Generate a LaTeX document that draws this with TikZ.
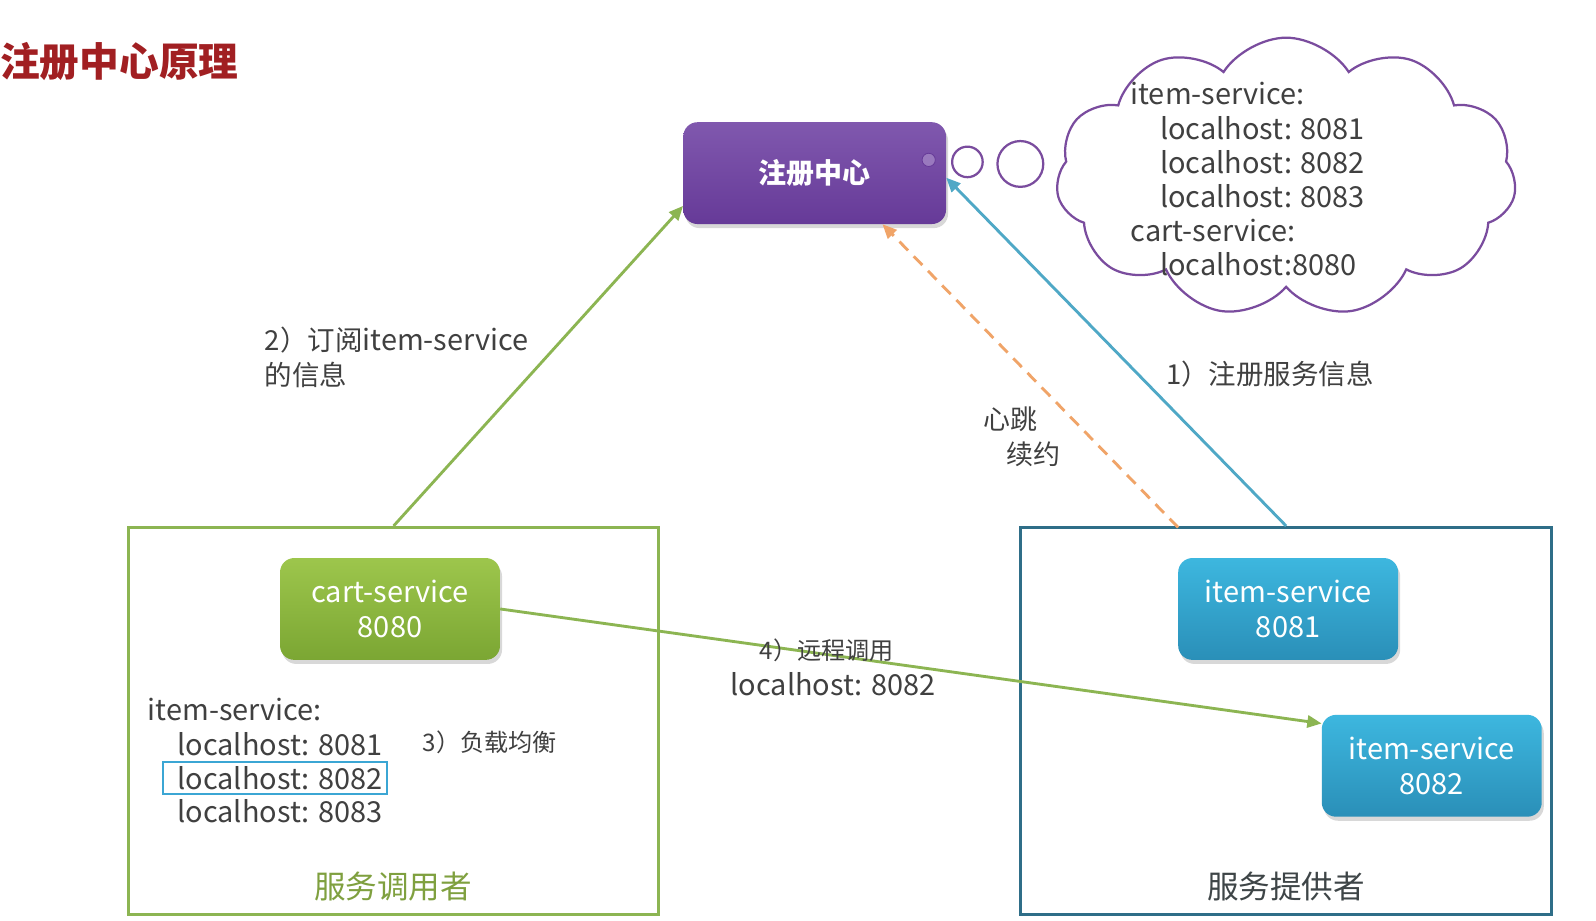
\documentclass[tikz,border=0pt]{standalone}
\usepackage{fontspec}
\setmainfont{Noto Sans CJK SC}
\usetikzlibrary{shapes.symbols,shadows,arrows.meta}
\definecolor{titlered}{HTML}{A11F22}
\definecolor{purpT}{HTML}{8058AE}
\definecolor{purpB}{HTML}{663A98}
\definecolor{greenT}{HTML}{9DC64C}
\definecolor{greenB}{HTML}{7BA633}
\definecolor{blueT}{HTML}{3DB7DF}
\definecolor{blueB}{HTML}{2A8FB8}
\definecolor{lgreen}{HTML}{8CB552}
\definecolor{lblue}{HTML}{4FA8C6}
\definecolor{lorange}{HTML}{F0A468}
\definecolor{teal}{HTML}{2F6E88}
\definecolor{txt}{HTML}{404040}
\definecolor{cloudp}{HTML}{7A4C9E}
\definecolor{hlblue}{HTML}{3BA6D4}
\definecolor{lbltxt}{HTML}{7FA03F}
\tikzset{
  svcbox/.style={rounded corners=14pt, text=white, align=center,
    font=\fontsize{28.5}{34}\selectfont, inner sep=0pt,
    drop shadow={shadow xshift=2pt, shadow yshift=-4pt, opacity=0.3}},
  arr/.style={line width=2.8pt, -{Triangle[length=14pt,width=12pt]}},
  lbl/.style={text=txt, font=\fontsize{27}{34}\selectfont, inner sep=0pt},
  list/.style={text=txt, font=\fontsize{28.4}{33.5}\selectfont, inner sep=0pt, anchor=west},
  group/.style={line width=3pt, minimum width=521pt, minimum height=380pt, inner sep=0pt},
}
\newcommand{\latbig}[1]{{\fontsize{28.4}{34}\selectfont #1}}
\begin{document}
\begin{tikzpicture}[x=1pt,y=-1pt]
\useasboundingbox (0,0) rectangle (1567.3,904.4);
\fill[white] (0,0) rectangle (1567.3,904.4);

% title
\node[anchor=west, text=titlered, font=\fontsize{39}{42}\selectfont\bfseries, inner sep=0pt] (title) at (0,60) {注册中心原理};

% groups
\node[group, draw=lgreen] (consumer) at (386.5,708) {};
\node[group, draw=teal, minimum width=522pt] (provider) at (1263,708) {};
\node[text=lbltxt, font=\fontsize{31}{34}\selectfont, inner sep=0pt] (conlbl) at (386,871) {服务调用者};
\node[text=txt!90!teal, font=\fontsize{31}{34}\selectfont, inner sep=0pt] (prolbl) at (1263,871) {服务提供者};

% registry
\node[svcbox, top color=purpT, bottom color=purpB, minimum width=258pt, minimum height=100pt,
  font=\fontsize{27.5}{34}\selectfont\bfseries] (reg) at (800,170) {注册中心};
\node[circle, fill=purpT!80!white, draw=purpB, line width=0.8pt, minimum size=13pt, inner sep=0pt] (dot) at (912,157) {};
\node[circle, draw=cloudp, line width=2.2pt, fill=white, minimum size=30pt, inner sep=0pt] (b1) at (950,159) {};
\node[circle, draw=cloudp, line width=2.2pt, fill=white, minimum size=45pt, inner sep=0pt] (b2) at (1002,161) {};

% cloud
\node[cloud, draw=cloudp, line width=2.2pt, fill=white, cloud puffs=11, cloud puff arc=115,
  aspect=1.66, minimum width=452pt, minimum height=274pt, inner sep=0pt] (cloud) at (1263,174) {};
\node[list, align=left] (cloudtxt) at (1110,176) {item-service:\\
\hspace*{29pt}localhost: 8081\\
\hspace*{29pt}localhost: 8082\\
\hspace*{29pt}localhost: 8083\\
cart-service:\\
\hspace*{29pt}localhost:8080};

% services
\node[svcbox, top color=greenT, bottom color=greenB, minimum width=216pt, minimum height=100pt] (cart) at (383,598) {cart-service\\8080};
\node[svcbox, top color=blueT, bottom color=blueB, minimum width=216pt, minimum height=100pt] (item1) at (1265,598) {item-service\\8081};
\node[svcbox, top color=blueT, bottom color=blueB, minimum width=216pt, minimum height=100pt] (item2) at (1406,752) {item-service\\8082};

% consumer list
\node[list] (li0) at (145,697) {item-service:};
\node[list] (li1) at (174,731) {localhost: 8081};
\node[list] (li2) at (174,764) {localhost: 8082};
\node[list] (li3) at (174,797) {localhost: 8083};
\draw[hlblue, line width=2pt] (160,748) rectangle (380,780);
\node[lbl, anchor=west, font=\fontsize{23.7}{30}\selectfont] (lb3) at (415,729) {3）负载均衡};

% connectors
\coordinate (hb) at (1157,518);
\draw[arr, lgreen] (consumer.north) -- (reg.194);
\draw[arr, lblue] (provider.north) -- (reg.-2);
\draw[arr, lorange, dashed, dash pattern=on 12pt off 8pt] (hb) -- (reg.-37);
\draw[arr, lgreen] (cart.east) -- (item2.159);

% labels
\node[lbl, anchor=west, align=left] (lb2) at (260,351) {2）订阅\latbig{item-service}\\的信息};
\node[lbl, anchor=west] (lb1) at (1145,367) {1）注册服务信息};
\node[lbl, anchor=west, font=\fontsize{26.5}{34}\selectfont] (hb1) at (966,412) {心跳};
\node[lbl, anchor=west, font=\fontsize{26.5}{34}\selectfont] (hb2) at (988,446) {续约};
\node[lbl, font=\fontsize{23.7}{30}\selectfont] (lb4a) at (812,639) {4）远程调用};
\node[lbl, font=\fontsize{28.4}{30}\selectfont] (lb4b) at (818,672) {localhost: 8082};
\end{tikzpicture}
\end{document}
